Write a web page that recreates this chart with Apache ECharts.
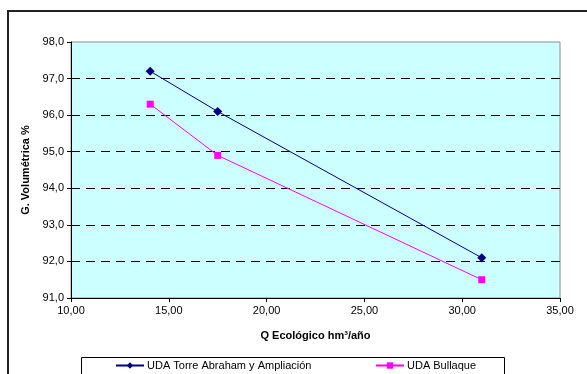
<!DOCTYPE html>
<html>
<head>
<meta charset="utf-8">
<script src="https://cdn.jsdelivr.net/npm/echarts@6/dist/echarts.min.js"></script>
<style>
  html, body { margin: 0; padding: 0; background: #fff; }
  #chart { width: 587px; height: 374px; }
</style>
</head>
<body>
<div id="chart"></div>
<script>
// Caudal ecológico (hm³/año) frente a garantía volumétrica (%)
const caudalTorre = [14.05, 17.5, 31.0];
const garantiaTorre = [97.2, 96.1, 92.1];
const caudalBullaque = [14.05, 17.5, 31.0];
const garantiaBullaque = [96.3, 94.9, 91.5];
const serieNames = ['UDA Torre Abraham y Ampliación', 'UDA Bullaque'];

const pairs = (xs, ys) => xs.map((x, i) => [x, ys[i]]);
const font = 'Liberation Sans, Arial, sans-serif';

const chart = echarts.init(document.getElementById('chart'), null, { renderer: 'canvas' });

const legendBase = {
  top: 360,
  padding: 0,
  itemWidth: 28, itemHeight: 8, itemGap: 0,
  textStyle: { fontFamily: font, fontSize: 11, color: '#000', padding: [0, 0, 0, -2] }
};

chart.setOption({
  animation: false,
  backgroundColor: '#ffffff',
  textStyle: { fontFamily: font },
  grid: {
    left: 71, top: 42, right: 27, bottom: 76,
    show: true,
    backgroundColor: '#CCFFFF',
    borderColor: '#8c8c8c',
    borderWidth: 1
  },
  xAxis: {
    type: 'value',
    min: 10, max: 35, interval: 5,
    name: 'Q Ecológico hm³/año',
    nameLocation: 'middle',
    nameGap: 32,
    nameTextStyle: { fontFamily: font, fontSize: 11, fontWeight: 'bold', color: '#000' },
    axisLine: { show: true, lineStyle: { color: '#000', width: 1 } },
    axisTick: { show: true, inside: false, length: 4, lineStyle: { color: '#000' } },
    axisLabel: {
      fontFamily: font, fontSize: 11, color: '#000', margin: 7,
      formatter: v => v.toFixed(2).replace('.', ',')
    },
    splitLine: { show: false }
  },
  yAxis: {
    type: 'value',
    min: 91, max: 98, interval: 1,
    name: 'G. Volumétrica %',
    nameLocation: 'middle',
    nameGap: 37,
    nameRotate: 90,
    nameTextStyle: { fontFamily: font, fontSize: 11, fontWeight: 'bold', color: '#000' },
    axisLine: { show: true, lineStyle: { color: '#000', width: 1 } },
    axisTick: { show: true, inside: false, length: 4, lineStyle: { color: '#000' } },
    axisLabel: {
      fontFamily: font, fontSize: 11, color: '#000', margin: 7,
      formatter: v => v.toFixed(1).replace('.', ',')
    },
    splitLine: {
      show: true,
      showMinLine: false,
      showMaxLine: false,
      lineStyle: { color: '#000', width: 1, type: [9, 6] }
    }
  },
  legend: [
    Object.assign({ data: [serieNames[0]], left: 115 }, legendBase),
    Object.assign({ data: [serieNames[1]], left: 375 }, legendBase)
  ],
  series: [
    {
      name: serieNames[0],
      type: 'line',
      data: pairs(caudalTorre, garantiaTorre),
      symbol: 'diamond',
      symbolSize: 9,
      itemStyle: { color: '#000080' },
      lineStyle: { color: '#000080', width: 1 }
    },
    {
      name: serieNames[1],
      type: 'line',
      data: pairs(caudalBullaque, garantiaBullaque),
      symbol: 'rect',
      symbolSize: 7,
      itemStyle: { color: '#FF00FF' },
      lineStyle: { color: '#FF00FF', width: 1 }
    }
  ],
  graphic: [
    {
      type: 'rect',
      shape: { x: 8, y: 11, width: 620, height: 420 },
      style: { fill: 'none', stroke: '#222', lineWidth: 2 },
      silent: true
    },
    {
      type: 'rect',
      shape: { x: 81.5, y: 357.5, width: 423, height: 40 },
      style: { fill: 'none', stroke: '#000', lineWidth: 1 },
      silent: true
    }
  ]
});
</script>
</body>
</html>
